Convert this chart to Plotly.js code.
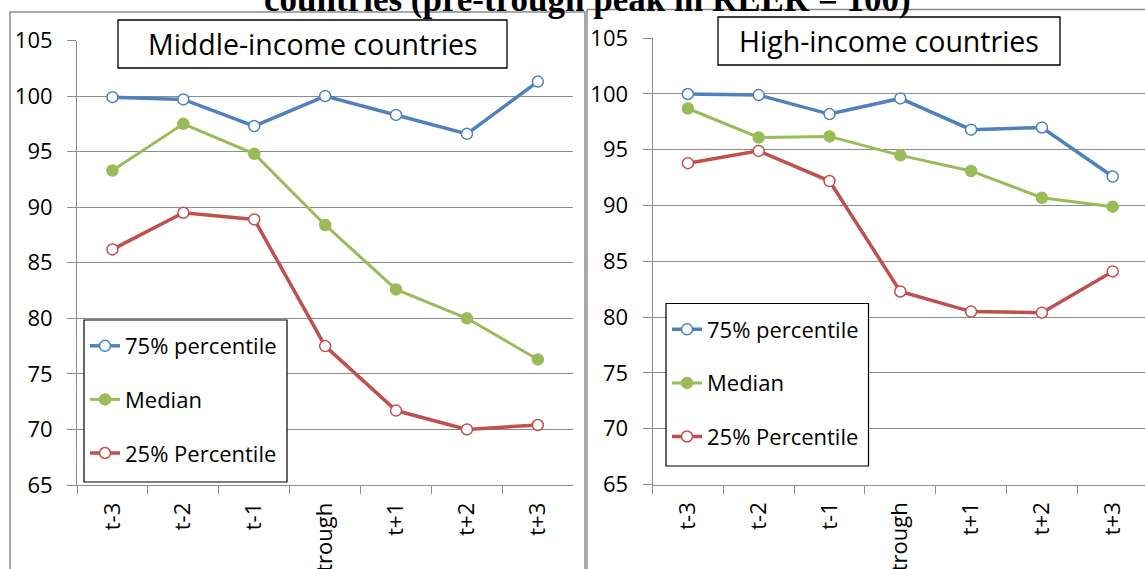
<!DOCTYPE html>
<html>
<head>
<meta charset="utf-8">
<script src="https://cdn.plot.ly/plotly-3.0.1.min.js"></script>
<style>html,body{margin:0;padding:0;background:#fff;}#chart{width:1145px;height:569px;}</style>
</head>
<body>
<div id="chart"></div>
<script>
// ---- data ----
const categories = ["t-3", "t-2", "t-1", "trough", "t+1", "t+2", "t+3"];
const seriesNames = ["75% percentile", "Median", "25% Percentile"];
const midP75 = [99.9, 99.7, 97.3, 100.0, 98.3, 96.6, 101.3];
const midMedian = [93.3, 97.5, 94.8, 88.4, 82.6, 80.0, 76.3];
const midP25 = [86.2, 89.5, 88.9, 77.5, 71.7, 70.0, 70.4];
const highP75 = [100.0, 99.9, 98.2, 99.6, 96.8, 97.0, 92.6];
const highMedian = [98.7, 96.1, 96.2, 94.5, 93.1, 90.7, 89.9];
const highP25 = [93.8, 94.9, 92.2, 82.3, 80.5, 80.4, 84.1];
const yTicks = [65, 70, 75, 80, 85, 90, 95, 100, 105];
const panelTitles = ["Middle-income countries", "High-income countries"];
const mainTitle = "countries (pre-trough peak in REER = 100)";

// ---- styling ----
const W = 1145, H = 569;
const px = v => v / W;
const py = v => 1 - v / H;
const FONT = "Open Sans, Lato, sans-serif";
const BLUE = "#4F81BD", GREEN = "#9BBB59", RED = "#C0504D";
const GRID = "#8c8c8c";

function mk(name, y, color, filled, xa, ya, leg, grp, lw) {
  return {
    type: "scatter", mode: "lines+markers", name: name,
    x: categories, y: y, xaxis: xa, yaxis: ya,
    legend: leg, legendgroup: grp, showlegend: true,
    line: {color: color, width: lw},
    marker: {symbol: "circle", size: 11, color: filled ? color : "#ffffff",
             line: {color: color, width: 1.5}},
    hoverinfo: "x+y+name"
  };
}

const traces = [
  mk(seriesNames[0], midP75, BLUE, false, "x", "y", "legend", "a", 3.5),
  mk(seriesNames[1], midMedian, GREEN, true, "x", "y", "legend", "b", 3),
  mk(seriesNames[2], midP25, RED, false, "x", "y", "legend", "c", 3.5),
  mk(seriesNames[0], highP75, BLUE, false, "x2", "y2", "legend2", "d", 3.5),
  mk(seriesNames[1], highMedian, GREEN, true, "x2", "y2", "legend2", "e", 3),
  mk(seriesNames[2], highP25, RED, false, "x2", "y2", "legend2", "f", 3.5)
];

function xax(domain, range) {
  return {
    domain: domain, type: "category", range: range,
    showline: true, linecolor: GRID, linewidth: 1,
    ticks: "outside", tickson: "boundaries", ticklen: 8, tickcolor: GRID, tickwidth: 1,
    tickangle: -90, tickfont: {family: FONT, size: 22, color: "#000"},
    ticklabelstandoff: 8,
    showgrid: false, zeroline: false, fixedrange: true, automargin: false
  };
}
function yax(domain, anchor) {
  return {
    domain: domain, anchor: anchor, range: [65, 105],
    tickvals: yTicks, ticktext: yTicks.map(String),
    showline: true, linecolor: GRID, linewidth: 1,
    ticks: "outside", ticklen: 9, tickcolor: GRID, tickwidth: 1,
    tickfont: {family: FONT, size: 22, color: "#000"},
    ticklabelstandoff: 10,
    showgrid: true, gridcolor: GRID, gridwidth: 1,
    zeroline: false, fixedrange: true, automargin: false
  };
}

const legendBase = {
  xanchor: "left", yanchor: "top", bgcolor: "rgba(0,0,0,0)",
  borderwidth: 0,
  font: {family: FONT, size: 22, color: "#000"},
  traceorder: "grouped", tracegroupgap: 22
};

const layout = {
  width: W, height: H,
  margin: {l: 0, r: 0, t: 0, b: 0, pad: 0},
  paper_bgcolor: "#ffffff", plot_bgcolor: "#ffffff",
  xaxis: xax([px(77), px(573.3)], [-0.5, 6.5]),
  yaxis: yax([1 - 485 / H, 1 - 40.5 / H], "x"),
  xaxis2: Object.assign(xax([px(652.5), 1], [-0.5, -0.5 + (1145 - 652.5) / 70.8]), {anchor: "y2"}),
  yaxis2: yax([1 - 484.5 / H, 1 - 38.2 / H], "x2"),
  legend: Object.assign({}, legendBase, {x: px(85), y: py(325)}),
  legend2: Object.assign({}, legendBase, {x: px(667), y: py(308.5)}),
  shapes: [
    {type: "rect", xref: "paper", yref: "paper", x0: px(10), x1: px(585), y0: -0.2, y1: py(12),
     line: {color: GRID, width: 1.5}, fillcolor: "rgba(0,0,0,0)", layer: "above"},
    {type: "rect", xref: "paper", yref: "paper", x0: px(587), x1: 1.2, y0: -0.2, y1: py(9.5),
     line: {color: GRID, width: 1.5}, fillcolor: "rgba(0,0,0,0)", layer: "above"},
    {type: "rect", xref: "paper", yref: "paper", x0: px(118), x1: px(507), y0: py(68), y1: py(20),
     line: {color: "#000", width: 1.3}, fillcolor: "#ffffff", layer: "above"},
    {type: "rect", xref: "paper", yref: "paper", x0: px(718), x1: px(1060), y0: py(65), y1: py(17),
     line: {color: "#000", width: 1.3}, fillcolor: "#ffffff", layer: "above"},
    // legend frames
    {type: "rect", xref: "paper", yref: "paper", x0: px(84), x1: px(287), y0: py(482), y1: py(320),
     line: {color: "#000", width: 1.2}, fillcolor: "#ffffff", layer: "above"},
    {type: "rect", xref: "paper", yref: "paper", x0: px(666), x1: px(868.5), y0: py(466), y1: py(303.5),
     line: {color: "#000", width: 1.2}, fillcolor: "#ffffff", layer: "above"}
  ],
  annotations: [
    {xref: "paper", yref: "paper", x: px(312.5), y: py(44), xanchor: "center", yanchor: "middle",
     text: panelTitles[0], showarrow: false, font: {family: FONT, size: 28.5, color: "#000"}},
    {xref: "paper", yref: "paper", x: px(889), y: py(41), xanchor: "center", yanchor: "middle",
     text: panelTitles[1], showarrow: false, font: {family: FONT, size: 28.5, color: "#000"}},
    {xref: "paper", yref: "paper", x: px(262), y: py(-0.5), xanchor: "left", yanchor: "middle",
     text: "<b>" + mainTitle + "</b>", showarrow: false,
     font: {family: "Liberation Serif, DejaVu Serif, serif", size: 35, color: "#000"}}
  ],
  showlegend: true
};

Plotly.newPlot("chart", traces, layout, {displayModeBar: false, staticPlot: true});
</script>
</body>
</html>
